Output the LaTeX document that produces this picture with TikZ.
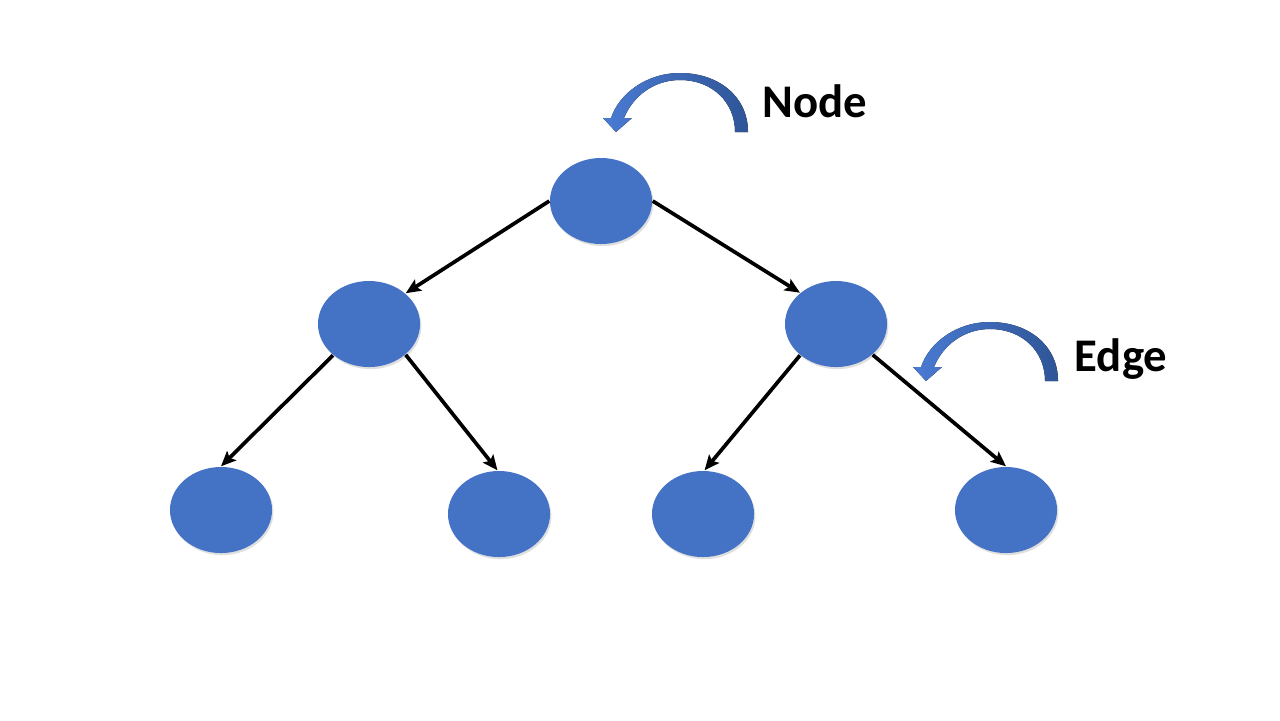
\documentclass[tikz,border=0pt]{standalone}
\usepackage{fontspec}
\setsansfont{Carlito}
\usepackage{tikz}
\usetikzlibrary{arrows.meta,shapes.geometric,shadows}
\definecolor{nodeblue}{HTML}{4472C4}
\definecolor{arclight}{HTML}{4A7BD3}
\definecolor{arcdark}{HTML}{2F5597}
\tikzset{tree node/.style={ellipse,fill=nodeblue,minimum width=1.02cm,minimum height=0.86cm,inner sep=0pt,
		drop shadow={shadow xshift=0.4pt,shadow yshift=-0.6pt,opacity=0.25}},
}
\newcommand{\bentarrow}[1]{%
	\fill[left color=arclight,right color=arcdark,shift={#1}]
	(748,132) .. controls (748,96) and (718,73) .. (680,73)
	.. controls (646,73) and (619,94) .. (611,118)
	-- (603,118) -- (616,132) -- (632,118) -- (624,118)
	.. controls (633,96) and (654,80) .. (680,80)
	.. controls (712,80) and (735,102) .. (735,132) -- cycle;}

\begin{document}
\begin{tikzpicture}[x=0.01cm,y=-0.01cm,>={Stealth[length=1.5mm,width=1.3mm,inset=0.3mm]},auto,
		label text/.style={font=\sffamily\bfseries\fontsize{13.3}{16}\selectfont}]
		\useasboundingbox (0,0) rectangle (1280,720);
		
		\node[tree node] (root) at (601,201) {};
		\node[tree node] (l) at (369,324) {};
		\node[tree node] (r) at (836,324) {};
		\node[tree node] (ll) at (221,510) {};
		\node[tree node] (lr) at (499,514) {};
		\node[tree node] (rl) at (703,514) {};
		\node[tree node] (rr) at (1006,510) {};
		
		\path[->,line width=1.05pt]
		(root.west) edge (l.40)
		(root.east) edge (r.139)
		(l.221) edge (ll.north)
		(l.-40) edge (lr.92)
		(r.221) edge (rl.88)
		(r.-40) edge (rr.north)
		;
		
		% curved block arrows and their labels
		\bentarrow{(0,0)}
		\bentarrow{(310,249)}
		\node[label text] (nodelabel) at (815,101) {Node};
		\node[label text] (edgelabel) at (1121,359) {Edge};
		\end{tikzpicture}
\end{document}
